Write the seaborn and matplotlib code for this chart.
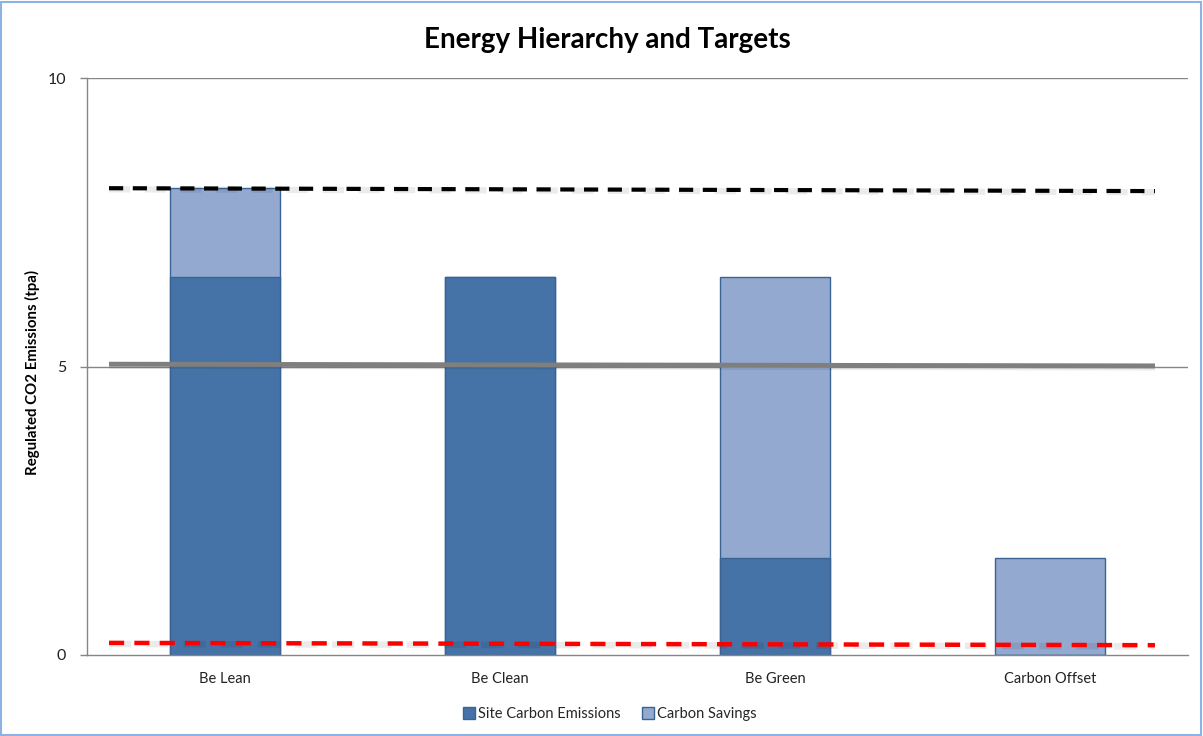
import matplotlib
matplotlib.use("Agg")
import matplotlib.pyplot as plt
import seaborn as sns
import pandas as pd
from matplotlib.patches import Patch, Rectangle

categories = ["Be Lean", "Be Clean", "Be Green", "Carbon Offset"]
site_emissions = [6.55, 6.55, 1.68, 0.0]
carbon_savings = [1.55, 0.0, 4.87, 1.68]

# target lines (values at start and end of each line)
line_x = [-0.42, 3.38]
baseline_target = [8.09, 8.04]
reduction_target = [5.04, 5.01]
zero_target = [0.21, 0.17]

title = "Energy Hierarchy and Targets"
y_label = "Regulated CO2 Emissions (tpa)"
y_ticks = [0, 5, 10]

dark = "#4573A7"
light = "#94A9CF"
edge = "#3A6394"
axis_grey = "#868686"

sns.set_theme(style="white")
plt.rcParams["font.family"] = ["Lato", "DejaVu Sans"]

df = pd.DataFrame({
    "category": categories,
    "site": site_emissions,
    "savings": carbon_savings,
})
df["total"] = df["site"] + df["savings"]

fig = plt.figure(figsize=(12.03, 7.36), dpi=100)
ax = fig.add_axes([87 / 1203, 1 - 655 / 736, (1188 - 87) / 1203, (655 - 78) / 736])

sns.barplot(data=df, x="category", y="total", color=light, width=0.4,
            edgecolor=edge, linewidth=1, saturation=1, ax=ax, zorder=2)
sns.barplot(data=df, x="category", y="site", color=dark, width=0.4,
            edgecolor=edge, linewidth=1, saturation=1, ax=ax, zorder=2)

ax.set_xlim(-0.5, 3.5)
ax.set_ylim(0, 10)
ax.set_yticks(y_ticks)
ax.set_yticklabels([str(t) for t in y_ticks], fontsize=11.5, color="#222222")
ax.set_xticks(range(len(categories)))
ax.set_xticklabels(categories, fontsize=10.5, color="#222222")
ax.set_xticks([-0.5, 0.5, 1.5, 2.5, 3.5], minor=True)
ax.tick_params(axis="x", which="major", length=0, pad=12)
ax.tick_params(axis="x", which="minor", length=5, color=axis_grey, width=1, direction="out")
ax.tick_params(axis="y", length=5, color=axis_grey, width=1, direction="out", left=True, pad=10)
ax.set_xlabel("")
ax.set_ylabel(y_label, fontsize=10.8, fontweight="bold", color="black")
ax.yaxis.set_label_coords((40 - 87) / 1101, 0.489)

for t in [5, 10]:
    ax.axhline(t, color=axis_grey, linewidth=1, zorder=1)

for s in ["top", "right"]:
    ax.spines[s].set_visible(False)
for s in ["left", "bottom"]:
    ax.spines[s].set_color(axis_grey)
    ax.spines[s].set_linewidth(1)

# target lines with soft shadow
def shadow_line(y, color, ls, lw):
    ax.plot(line_x, [v - 0.02 for v in y], color="#000000", alpha=0.08,
            linestyle=ls, linewidth=lw + 1.5, zorder=3, solid_capstyle="butt")
    ax.plot(line_x, y, color=color, linestyle=ls, linewidth=lw, zorder=4,
            solid_capstyle="butt", dash_capstyle="butt")

shadow_line(baseline_target, "black", (0, (3.4, 2.3)), 3)
shadow_line(reduction_target, "#7F7F7F", "-", 3.5)
shadow_line(zero_target, "#FF0000", (0, (3.4, 2.3)), 3.2)

fig.text(607 / 1203, 1 - 40 / 736, title, ha="center", va="center",
         fontsize=20, fontweight="bold", color="black")

handles = [Patch(facecolor=dark, edgecolor=edge, label="Site Carbon Emissions"),
           Patch(facecolor=light, edgecolor=edge, label="Carbon Savings")]
fig.legend(handles=handles, loc="center", bbox_to_anchor=(610 / 1203, 1 - 714 / 736),
           ncol=2, frameon=False, fontsize=10.5, handlelength=0.8, handleheight=0.8,
           handletextpad=0.2, columnspacing=1.5)

fig.patches.append(Rectangle((1 / 1203, 1 / 736), 1 - 3 / 1203, 1 - 3 / 736,
                             transform=fig.transFigure, fill=False,
                             edgecolor="#8DB3E2", linewidth=1.5))

fig.savefig("out.png", dpi=100)
